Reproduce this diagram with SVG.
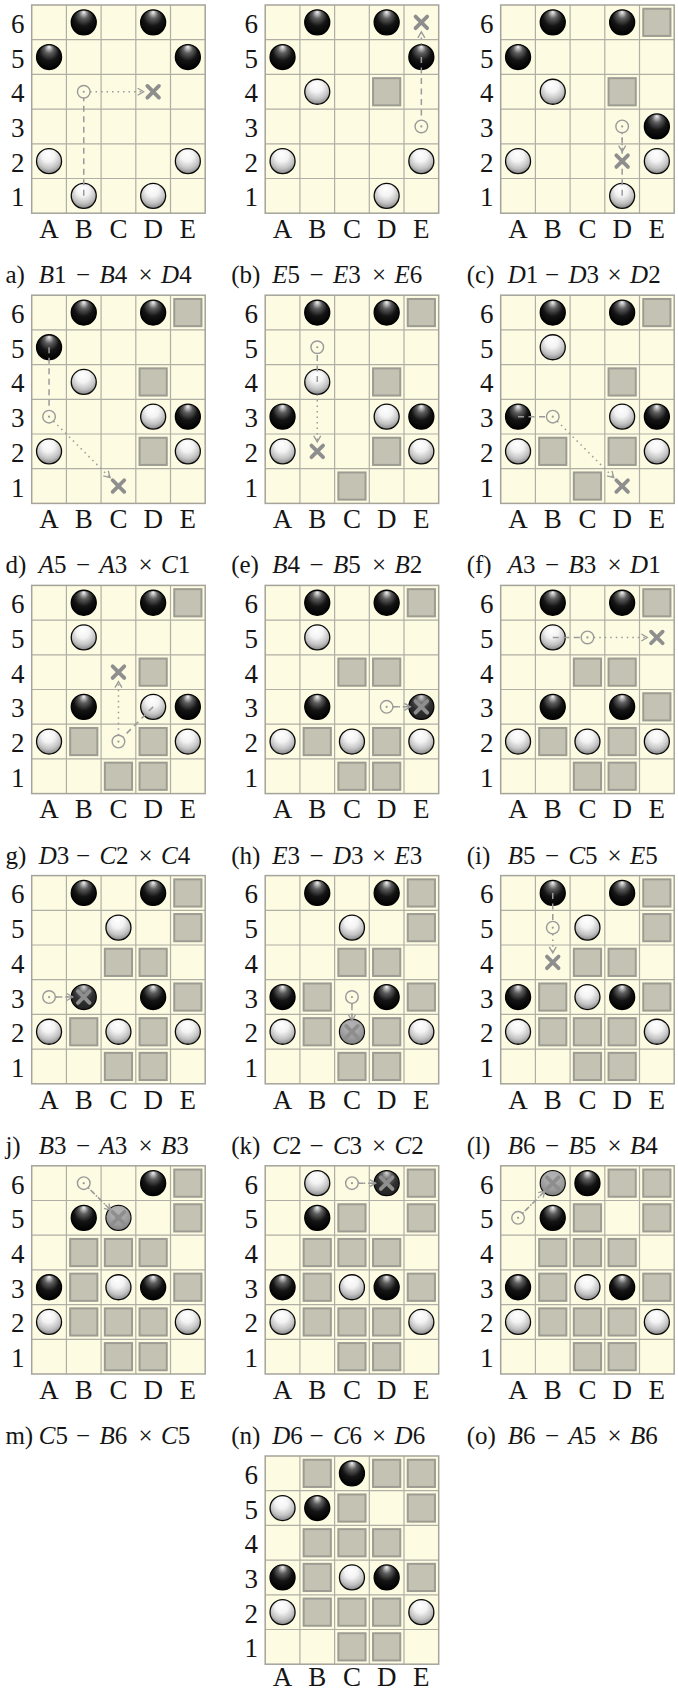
<svg xmlns="http://www.w3.org/2000/svg" width="678" height="1693" viewBox="0 0 678 1693">
<style>
.lbl{font-family:'Liberation Serif','DejaVu Serif',serif;font-size:27px;fill:#151515;text-anchor:middle}
.cap{font-family:'Liberation Serif','DejaVu Serif',serif;font-size:25px;fill:#151515}
.it{font-style:italic}
.mv{fill:none;stroke:#9a9a9a;stroke-width:1.5;stroke-dasharray:6 4.5}
.cp{fill:none;stroke:#9a9a9a;stroke-width:1.5;stroke-dasharray:1.5 4;marker-end:url(#ah)}
</style>
<defs>
<radialGradient id="gb" cx="0.5" cy="0.38" r="0.62" fx="0.5" fy="0.08"><stop offset="0" stop-color="#f4f4f4"/><stop offset="0.3" stop-color="#5e5e5e"/><stop offset="0.62" stop-color="#141414"/><stop offset="1" stop-color="#000"/></radialGradient>
<radialGradient id="gw" cx="0.5" cy="0.35" r="0.65" fx="0.45" fy="0.2"><stop offset="0" stop-color="#fff"/><stop offset="0.4" stop-color="#f3f3f3"/><stop offset="0.75" stop-color="#c2c2c2"/><stop offset="1" stop-color="#858585"/></radialGradient>
<marker id="ah" markerUnits="userSpaceOnUse" markerWidth="9" markerHeight="9" refX="6" refY="3.5" orient="auto" overflow="visible"><path d="M0 0L6 3.5L0 7" fill="none" stroke="#9a9a9a" stroke-width="1.3"/></marker>
<g id="grid"><rect width="173.5" height="208.2" fill="#fdfbe2"/><path d="M34.7 0V208.2M69.4 0V208.2M104.1 0V208.2M138.8 0V208.2M0 34.7H173.5M0 69.4H173.5M0 104.1H173.5M0 138.8H173.5M0 173.5H173.5" stroke="#b0afa5" stroke-width="1.2" fill="none"/><rect width="173.5" height="208.2" fill="none" stroke="#a5a49b" stroke-width="1.5"/></g>
<circle id="bk" r="12.5" fill="url(#gb)" stroke="#000" stroke-width="1.3"/>
<circle id="wt" r="12.5" fill="url(#gw)" stroke="#0a0a0a" stroke-width="1.3"/>
<rect id="gs" x="-13.6" y="-13.6" width="27.2" height="27.2" fill="#c3c2b3" stroke="#9d9c93" stroke-width="2"/>
<path id="xx" d="M-5.8-5.8L5.8 5.8M5.8-5.8L-5.8 5.8" stroke="#8e8e8e" stroke-width="3.8" stroke-linecap="round" fill="none"/>
<g id="cm"><circle r="6.3" fill="none" stroke="#9a9a9a" stroke-width="1.4"/><circle r="1.1" fill="#9a9a9a"/></g>
<circle id="mw" r="12" fill="#7d7d7d" fill-opacity="0.6"/>
<circle id="mb" r="12" fill="#888" fill-opacity="0.25"/>
</defs>

<g id="board-a" transform="translate(31.7,5)">
<use href="#grid"/>
<use href="#bk" x="52.05" y="17.35"/><use href="#bk" x="121.45" y="17.35"/><use href="#bk" x="17.35" y="52.05"/><use href="#bk" x="156.15" y="52.05"/>
<use href="#wt" x="17.35" y="156.15"/><use href="#wt" x="156.15" y="156.15"/><use href="#wt" x="52.05" y="190.85"/><use href="#wt" x="121.45" y="190.85"/>
<g id="board-a-moves"><path class="mv" d="M52.05 190.85V93.05"/><use href="#cm" x="52.05" y="86.75"/><path class="cp" d="M58.35 86.75H111.95"/><use href="#xx" x="121.45" y="86.75"/></g>
<text class="lbl" x="-14 -14 -14 -14 -14 -14" y="27.85 62.55 97.25 131.95 166.65 201.35">654321</text>
<text class="lbl" x="17.35 52.05 86.75 121.45 156.15" y="233">ABCDE</text>
<text class="cap" y="278.3"><tspan x="-26.3">a)</tspan><tspan x="7" class="it">B</tspan>1<tspan x="44.4">−</tspan><tspan x="67.7" class="it">B</tspan>4<tspan x="106.7">×</tspan><tspan x="129.4" class="it">D</tspan>4</text>
</g>

<g id="board-b" transform="translate(265.2,5)">
<use href="#grid"/>
<use href="#gs" x="121.45" y="86.75"/>
<use href="#bk" x="52.05" y="17.35"/><use href="#bk" x="121.45" y="17.35"/><use href="#bk" x="17.35" y="52.05"/><use href="#bk" x="156.15" y="52.05"/>
<use href="#wt" x="52.05" y="86.75"/><use href="#wt" x="17.35" y="156.15"/><use href="#wt" x="156.15" y="156.15"/><use href="#wt" x="121.45" y="190.85"/>
<g id="board-b-moves"><path class="mv" d="M156.15 52.05V115.15"/><use href="#cm" x="156.15" y="121.45"/><path class="cp" d="M156.15 39.55V26.85"/><use href="#xx" x="156.15" y="17.35"/></g>
<text class="lbl" x="-14 -14 -14 -14 -14 -14" y="27.85 62.55 97.25 131.95 166.65 201.35">654321</text>
<text class="lbl" x="17.35 52.05 86.75 121.45 156.15" y="233">ABCDE</text>
<text class="cap" y="278.3"><tspan x="-34">(b)</tspan><tspan x="7" class="it">E</tspan>5<tspan x="44.4">−</tspan><tspan x="67.7" class="it">E</tspan>3<tspan x="106.7">×</tspan><tspan x="129.4" class="it">E</tspan>6</text>
</g>

<g id="board-c" transform="translate(500.7,5)">
<use href="#grid"/>
<use href="#gs" x="156.15" y="17.35"/><use href="#gs" x="121.45" y="86.75"/>
<use href="#bk" x="52.05" y="17.35"/><use href="#bk" x="121.45" y="17.35"/><use href="#bk" x="17.35" y="52.05"/><use href="#bk" x="156.15" y="121.45"/>
<use href="#wt" x="52.05" y="86.75"/><use href="#wt" x="17.35" y="156.15"/><use href="#wt" x="156.15" y="156.15"/><use href="#wt" x="121.45" y="190.85"/>
<g id="board-c-moves"><path class="mv" d="M121.45 190.85V127.75"/><use href="#cm" x="121.45" y="121.45"/><path class="cp" d="M121.45 127.75V146.65"/><use href="#xx" x="121.45" y="156.15"/></g>
<text class="lbl" x="-14 -14 -14 -14 -14 -14" y="27.85 62.55 97.25 131.95 166.65 201.35">654321</text>
<text class="lbl" x="17.35 52.05 86.75 121.45 156.15" y="233">ABCDE</text>
<text class="cap" y="278.3"><tspan x="-34">(c)</tspan><tspan x="7" class="it">D</tspan>1<tspan x="44.4">−</tspan><tspan x="67.7" class="it">D</tspan>3<tspan x="106.7">×</tspan><tspan x="129.4" class="it">D</tspan>2</text>
</g>

<g id="board-d" transform="translate(31.7,295.2)">
<use href="#grid"/>
<use href="#gs" x="156.15" y="17.35"/><use href="#gs" x="121.45" y="86.75"/><use href="#gs" x="121.45" y="156.15"/>
<use href="#bk" x="52.05" y="17.35"/><use href="#bk" x="121.45" y="17.35"/><use href="#bk" x="17.35" y="52.05"/><use href="#bk" x="156.15" y="121.45"/>
<use href="#wt" x="52.05" y="86.75"/><use href="#wt" x="121.45" y="121.45"/><use href="#wt" x="17.35" y="156.15"/><use href="#wt" x="156.15" y="156.15"/>
<g id="board-d-moves"><path class="mv" d="M17.35 52.05V115.15"/><use href="#cm" x="17.35" y="121.45"/><path class="cp" d="M21.8 125.9L78.35 182.45"/><use href="#xx" x="86.75" y="190.85"/></g>
<text class="lbl" x="-14 -14 -14 -14 -14 -14" y="27.85 62.55 97.25 131.95 166.65 201.35">654321</text>
<text class="lbl" x="17.35 52.05 86.75 121.45 156.15" y="233">ABCDE</text>
<text class="cap" y="278.3"><tspan x="-26.3">d)</tspan><tspan x="7" class="it">A</tspan>5<tspan x="44.4">−</tspan><tspan x="67.7" class="it">A</tspan>3<tspan x="106.7">×</tspan><tspan x="129.4" class="it">C</tspan>1</text>
</g>

<g id="board-e" transform="translate(265.2,295.2)">
<use href="#grid"/>
<use href="#gs" x="156.15" y="17.35"/><use href="#gs" x="121.45" y="86.75"/><use href="#gs" x="121.45" y="156.15"/><use href="#gs" x="86.75" y="190.85"/>
<use href="#bk" x="52.05" y="17.35"/><use href="#bk" x="121.45" y="17.35"/><use href="#bk" x="17.35" y="121.45"/><use href="#bk" x="156.15" y="121.45"/>
<use href="#wt" x="52.05" y="86.75"/><use href="#wt" x="121.45" y="121.45"/><use href="#wt" x="17.35" y="156.15"/><use href="#wt" x="156.15" y="156.15"/>
<g id="board-e-moves"><path class="mv" d="M52.05 86.75V58.35"/><use href="#cm" x="52.05" y="52.05"/><path class="cp" d="M52.05 99.25V146.65"/><use href="#xx" x="52.05" y="156.15"/></g>
<text class="lbl" x="-14 -14 -14 -14 -14 -14" y="27.85 62.55 97.25 131.95 166.65 201.35">654321</text>
<text class="lbl" x="17.35 52.05 86.75 121.45 156.15" y="233">ABCDE</text>
<text class="cap" y="278.3"><tspan x="-34">(e)</tspan><tspan x="7" class="it">B</tspan>4<tspan x="44.4">−</tspan><tspan x="67.7" class="it">B</tspan>5<tspan x="106.7">×</tspan><tspan x="129.4" class="it">B</tspan>2</text>
</g>

<g id="board-f" transform="translate(500.7,295.2)">
<use href="#grid"/>
<use href="#gs" x="156.15" y="17.35"/><use href="#gs" x="121.45" y="86.75"/><use href="#gs" x="52.05" y="156.15"/><use href="#gs" x="121.45" y="156.15"/><use href="#gs" x="86.75" y="190.85"/>
<use href="#bk" x="52.05" y="17.35"/><use href="#bk" x="121.45" y="17.35"/><use href="#bk" x="17.35" y="121.45"/><use href="#bk" x="156.15" y="121.45"/>
<use href="#wt" x="52.05" y="52.05"/><use href="#wt" x="121.45" y="121.45"/><use href="#wt" x="17.35" y="156.15"/><use href="#wt" x="156.15" y="156.15"/>
<g id="board-f-moves"><path class="mv" d="M17.35 121.45H45.75"/><use href="#cm" x="52.05" y="121.45"/><path class="cp" d="M56.5 125.9L113.05 182.45"/><use href="#xx" x="121.45" y="190.85"/></g>
<text class="lbl" x="-14 -14 -14 -14 -14 -14" y="27.85 62.55 97.25 131.95 166.65 201.35">654321</text>
<text class="lbl" x="17.35 52.05 86.75 121.45 156.15" y="233">ABCDE</text>
<text class="cap" y="278.3"><tspan x="-34">(f)</tspan><tspan x="7" class="it">A</tspan>3<tspan x="44.4">−</tspan><tspan x="67.7" class="it">B</tspan>3<tspan x="106.7">×</tspan><tspan x="129.4" class="it">D</tspan>1</text>
</g>

<g id="board-g" transform="translate(31.7,585.4)">
<use href="#grid"/>
<use href="#gs" x="156.15" y="17.35"/><use href="#gs" x="121.45" y="86.75"/><use href="#gs" x="52.05" y="156.15"/><use href="#gs" x="121.45" y="156.15"/><use href="#gs" x="86.75" y="190.85"/><use href="#gs" x="121.45" y="190.85"/>
<use href="#bk" x="52.05" y="17.35"/><use href="#bk" x="121.45" y="17.35"/><use href="#bk" x="52.05" y="121.45"/><use href="#bk" x="156.15" y="121.45"/>
<use href="#wt" x="52.05" y="52.05"/><use href="#wt" x="121.45" y="121.45"/><use href="#wt" x="17.35" y="156.15"/><use href="#wt" x="156.15" y="156.15"/>
<g id="board-g-moves"><path class="mv" d="M121.45 121.45L91.2 151.7"/><use href="#cm" x="86.75" y="156.15"/><path class="cp" d="M86.75 149.85V96.25"/><use href="#xx" x="86.75" y="86.75"/></g>
<text class="lbl" x="-14 -14 -14 -14 -14 -14" y="27.85 62.55 97.25 131.95 166.65 201.35">654321</text>
<text class="lbl" x="17.35 52.05 86.75 121.45 156.15" y="233">ABCDE</text>
<text class="cap" y="278.3"><tspan x="-26.3">g)</tspan><tspan x="7" class="it">D</tspan>3<tspan x="44.4">−</tspan><tspan x="67.7" class="it">C</tspan>2<tspan x="106.7">×</tspan><tspan x="129.4" class="it">C</tspan>4</text>
</g>

<g id="board-h" transform="translate(265.2,585.4)">
<use href="#grid"/>
<use href="#gs" x="156.15" y="17.35"/><use href="#gs" x="86.75" y="86.75"/><use href="#gs" x="121.45" y="86.75"/><use href="#gs" x="52.05" y="156.15"/><use href="#gs" x="121.45" y="156.15"/><use href="#gs" x="86.75" y="190.85"/><use href="#gs" x="121.45" y="190.85"/>
<use href="#bk" x="52.05" y="17.35"/><use href="#bk" x="121.45" y="17.35"/><use href="#bk" x="52.05" y="121.45"/><use href="#bk" x="156.15" y="121.45"/>
<use href="#wt" x="52.05" y="52.05"/><use href="#wt" x="17.35" y="156.15"/><use href="#wt" x="86.75" y="156.15"/><use href="#wt" x="156.15" y="156.15"/>
<g id="board-h-moves"><use href="#mb" x="156.15" y="121.45"/><path class="mv" d="M143.65 121.45H127.75"/><use href="#cm" x="121.45" y="121.45"/><path class="cp" d="M127.75 121.45H145.15"/><use href="#xx" x="156.15" y="121.45"/></g>
<text class="lbl" x="-14 -14 -14 -14 -14 -14" y="27.85 62.55 97.25 131.95 166.65 201.35">654321</text>
<text class="lbl" x="17.35 52.05 86.75 121.45 156.15" y="233">ABCDE</text>
<text class="cap" y="278.3"><tspan x="-34">(h)</tspan><tspan x="7" class="it">E</tspan>3<tspan x="44.4">−</tspan><tspan x="67.7" class="it">D</tspan>3<tspan x="106.7">×</tspan><tspan x="129.4" class="it">E</tspan>3</text>
</g>

<g id="board-i" transform="translate(500.7,585.4)">
<use href="#grid"/>
<use href="#gs" x="156.15" y="17.35"/><use href="#gs" x="86.75" y="86.75"/><use href="#gs" x="121.45" y="86.75"/><use href="#gs" x="156.15" y="121.45"/><use href="#gs" x="52.05" y="156.15"/><use href="#gs" x="121.45" y="156.15"/><use href="#gs" x="86.75" y="190.85"/><use href="#gs" x="121.45" y="190.85"/>
<use href="#bk" x="52.05" y="17.35"/><use href="#bk" x="121.45" y="17.35"/><use href="#bk" x="52.05" y="121.45"/><use href="#bk" x="121.45" y="121.45"/>
<use href="#wt" x="52.05" y="52.05"/><use href="#wt" x="17.35" y="156.15"/><use href="#wt" x="86.75" y="156.15"/><use href="#wt" x="156.15" y="156.15"/>
<g id="board-i-moves"><path class="mv" d="M52.05 52.05H80.45"/><use href="#cm" x="86.75" y="52.05"/><path class="cp" d="M93.05 52.05H146.65"/><use href="#xx" x="156.15" y="52.05"/></g>
<text class="lbl" x="-14 -14 -14 -14 -14 -14" y="27.85 62.55 97.25 131.95 166.65 201.35">654321</text>
<text class="lbl" x="17.35 52.05 86.75 121.45 156.15" y="233">ABCDE</text>
<text class="cap" y="278.3"><tspan x="-34">(i)</tspan><tspan x="7" class="it">B</tspan>5<tspan x="44.4">−</tspan><tspan x="67.7" class="it">C</tspan>5<tspan x="106.7">×</tspan><tspan x="129.4" class="it">E</tspan>5</text>
</g>

<g id="board-j" transform="translate(31.7,875.6)">
<use href="#grid"/>
<use href="#gs" x="156.15" y="17.35"/><use href="#gs" x="156.15" y="52.05"/><use href="#gs" x="86.75" y="86.75"/><use href="#gs" x="121.45" y="86.75"/><use href="#gs" x="156.15" y="121.45"/><use href="#gs" x="52.05" y="156.15"/><use href="#gs" x="121.45" y="156.15"/><use href="#gs" x="86.75" y="190.85"/><use href="#gs" x="121.45" y="190.85"/>
<use href="#bk" x="52.05" y="17.35"/><use href="#bk" x="121.45" y="17.35"/><use href="#bk" x="52.05" y="121.45"/><use href="#bk" x="121.45" y="121.45"/>
<use href="#wt" x="86.75" y="52.05"/><use href="#wt" x="17.35" y="156.15"/><use href="#wt" x="86.75" y="156.15"/><use href="#wt" x="156.15" y="156.15"/>
<g id="board-j-moves"><use href="#mb" x="52.05" y="121.45"/><path class="mv" d="M39.55 121.45H23.65"/><use href="#cm" x="17.35" y="121.45"/><path class="cp" d="M23.65 121.45H41.05"/><use href="#xx" x="52.05" y="121.45"/></g>
<text class="lbl" x="-14 -14 -14 -14 -14 -14" y="27.85 62.55 97.25 131.95 166.65 201.35">654321</text>
<text class="lbl" x="17.35 52.05 86.75 121.45 156.15" y="233">ABCDE</text>
<text class="cap" y="278.3"><tspan x="-26.3">j)</tspan><tspan x="7" class="it">B</tspan>3<tspan x="44.4">−</tspan><tspan x="67.7" class="it">A</tspan>3<tspan x="106.7">×</tspan><tspan x="129.4" class="it">B</tspan>3</text>
</g>

<g id="board-k" transform="translate(265.2,875.6)">
<use href="#grid"/>
<use href="#gs" x="156.15" y="17.35"/><use href="#gs" x="156.15" y="52.05"/><use href="#gs" x="86.75" y="86.75"/><use href="#gs" x="121.45" y="86.75"/><use href="#gs" x="52.05" y="121.45"/><use href="#gs" x="156.15" y="121.45"/><use href="#gs" x="52.05" y="156.15"/><use href="#gs" x="121.45" y="156.15"/><use href="#gs" x="86.75" y="190.85"/><use href="#gs" x="121.45" y="190.85"/>
<use href="#bk" x="52.05" y="17.35"/><use href="#bk" x="121.45" y="17.35"/><use href="#bk" x="17.35" y="121.45"/><use href="#bk" x="121.45" y="121.45"/>
<use href="#wt" x="86.75" y="52.05"/><use href="#wt" x="17.35" y="156.15"/><use href="#wt" x="86.75" y="156.15"/><use href="#wt" x="156.15" y="156.15"/>
<g id="board-k-moves"><use href="#mw" x="86.75" y="156.15"/><path class="mv" d="M86.75 143.65V127.75"/><use href="#cm" x="86.75" y="121.45"/><path class="cp" d="M86.75 127.75V145.15"/><use href="#xx" x="86.75" y="156.15"/></g>
<text class="lbl" x="-14 -14 -14 -14 -14 -14" y="27.85 62.55 97.25 131.95 166.65 201.35">654321</text>
<text class="lbl" x="17.35 52.05 86.75 121.45 156.15" y="233">ABCDE</text>
<text class="cap" y="278.3"><tspan x="-34">(k)</tspan><tspan x="7" class="it">C</tspan>2<tspan x="44.4">−</tspan><tspan x="67.7" class="it">C</tspan>3<tspan x="106.7">×</tspan><tspan x="129.4" class="it">C</tspan>2</text>
</g>

<g id="board-l" transform="translate(500.7,875.6)">
<use href="#grid"/>
<use href="#gs" x="156.15" y="17.35"/><use href="#gs" x="156.15" y="52.05"/><use href="#gs" x="86.75" y="86.75"/><use href="#gs" x="121.45" y="86.75"/><use href="#gs" x="52.05" y="121.45"/><use href="#gs" x="156.15" y="121.45"/><use href="#gs" x="52.05" y="156.15"/><use href="#gs" x="86.75" y="156.15"/><use href="#gs" x="121.45" y="156.15"/><use href="#gs" x="86.75" y="190.85"/><use href="#gs" x="121.45" y="190.85"/>
<use href="#bk" x="52.05" y="17.35"/><use href="#bk" x="121.45" y="17.35"/><use href="#bk" x="17.35" y="121.45"/><use href="#bk" x="121.45" y="121.45"/>
<use href="#wt" x="86.75" y="52.05"/><use href="#wt" x="86.75" y="121.45"/><use href="#wt" x="17.35" y="156.15"/><use href="#wt" x="156.15" y="156.15"/>
<g id="board-l-moves"><path class="mv" d="M52.05 17.35V45.75"/><use href="#cm" x="52.05" y="52.05"/><path class="cp" d="M52.05 58.35V77.25"/><use href="#xx" x="52.05" y="86.75"/></g>
<text class="lbl" x="-14 -14 -14 -14 -14 -14" y="27.85 62.55 97.25 131.95 166.65 201.35">654321</text>
<text class="lbl" x="17.35 52.05 86.75 121.45 156.15" y="233">ABCDE</text>
<text class="cap" y="278.3"><tspan x="-34">(l)</tspan><tspan x="7" class="it">B</tspan>6<tspan x="44.4">−</tspan><tspan x="67.7" class="it">B</tspan>5<tspan x="106.7">×</tspan><tspan x="129.4" class="it">B</tspan>4</text>
</g>

<g id="board-m" transform="translate(31.7,1165.8)">
<use href="#grid"/>
<use href="#gs" x="156.15" y="17.35"/><use href="#gs" x="156.15" y="52.05"/><use href="#gs" x="52.05" y="86.75"/><use href="#gs" x="86.75" y="86.75"/><use href="#gs" x="121.45" y="86.75"/><use href="#gs" x="52.05" y="121.45"/><use href="#gs" x="156.15" y="121.45"/><use href="#gs" x="52.05" y="156.15"/><use href="#gs" x="86.75" y="156.15"/><use href="#gs" x="121.45" y="156.15"/><use href="#gs" x="86.75" y="190.85"/><use href="#gs" x="121.45" y="190.85"/>
<use href="#bk" x="121.45" y="17.35"/><use href="#bk" x="52.05" y="52.05"/><use href="#bk" x="17.35" y="121.45"/><use href="#bk" x="121.45" y="121.45"/>
<use href="#wt" x="86.75" y="52.05"/><use href="#wt" x="86.75" y="121.45"/><use href="#wt" x="17.35" y="156.15"/><use href="#wt" x="156.15" y="156.15"/>
<g id="board-m-moves"><use href="#mw" x="86.75" y="52.05"/><path class="mv" d="M77.9 43.2L56.5 21.8"/><use href="#cm" x="52.05" y="17.35"/><path class="cp" d="M56.5 21.8L78.95 44.25"/><use href="#xx" x="86.75" y="52.05"/></g>
<text class="lbl" x="-14 -14 -14 -14 -14 -14" y="27.85 62.55 97.25 131.95 166.65 201.35">654321</text>
<text class="lbl" x="17.35 52.05 86.75 121.45 156.15" y="233">ABCDE</text>
<text class="cap" y="278.3"><tspan x="-26.3">m)</tspan><tspan x="7" class="it">C</tspan>5<tspan x="44.4">−</tspan><tspan x="67.7" class="it">B</tspan>6<tspan x="106.7">×</tspan><tspan x="129.4" class="it">C</tspan>5</text>
</g>

<g id="board-n" transform="translate(265.2,1165.8)">
<use href="#grid"/>
<use href="#gs" x="156.15" y="17.35"/><use href="#gs" x="86.75" y="52.05"/><use href="#gs" x="156.15" y="52.05"/><use href="#gs" x="52.05" y="86.75"/><use href="#gs" x="86.75" y="86.75"/><use href="#gs" x="121.45" y="86.75"/><use href="#gs" x="52.05" y="121.45"/><use href="#gs" x="156.15" y="121.45"/><use href="#gs" x="52.05" y="156.15"/><use href="#gs" x="86.75" y="156.15"/><use href="#gs" x="121.45" y="156.15"/><use href="#gs" x="86.75" y="190.85"/><use href="#gs" x="121.45" y="190.85"/>
<use href="#bk" x="121.45" y="17.35"/><use href="#bk" x="52.05" y="52.05"/><use href="#bk" x="17.35" y="121.45"/><use href="#bk" x="121.45" y="121.45"/>
<use href="#wt" x="52.05" y="17.35"/><use href="#wt" x="86.75" y="121.45"/><use href="#wt" x="17.35" y="156.15"/><use href="#wt" x="156.15" y="156.15"/>
<g id="board-n-moves"><use href="#mb" x="121.45" y="17.35"/><path class="mv" d="M108.95 17.35H93.05"/><use href="#cm" x="86.75" y="17.35"/><path class="cp" d="M93.05 17.35H110.45"/><use href="#xx" x="121.45" y="17.35"/></g>
<text class="lbl" x="-14 -14 -14 -14 -14 -14" y="27.85 62.55 97.25 131.95 166.65 201.35">654321</text>
<text class="lbl" x="17.35 52.05 86.75 121.45 156.15" y="233">ABCDE</text>
<text class="cap" y="278.3"><tspan x="-34">(n)</tspan><tspan x="7" class="it">D</tspan>6<tspan x="44.4">−</tspan><tspan x="67.7" class="it">C</tspan>6<tspan x="106.7">×</tspan><tspan x="129.4" class="it">D</tspan>6</text>
</g>

<g id="board-o" transform="translate(500.7,1165.8)">
<use href="#grid"/>
<use href="#gs" x="121.45" y="17.35"/><use href="#gs" x="156.15" y="17.35"/><use href="#gs" x="86.75" y="52.05"/><use href="#gs" x="156.15" y="52.05"/><use href="#gs" x="52.05" y="86.75"/><use href="#gs" x="86.75" y="86.75"/><use href="#gs" x="121.45" y="86.75"/><use href="#gs" x="52.05" y="121.45"/><use href="#gs" x="156.15" y="121.45"/><use href="#gs" x="52.05" y="156.15"/><use href="#gs" x="86.75" y="156.15"/><use href="#gs" x="121.45" y="156.15"/><use href="#gs" x="86.75" y="190.85"/><use href="#gs" x="121.45" y="190.85"/>
<use href="#bk" x="86.75" y="17.35"/><use href="#bk" x="52.05" y="52.05"/><use href="#bk" x="17.35" y="121.45"/><use href="#bk" x="121.45" y="121.45"/>
<use href="#wt" x="52.05" y="17.35"/><use href="#wt" x="86.75" y="121.45"/><use href="#wt" x="17.35" y="156.15"/><use href="#wt" x="156.15" y="156.15"/>
<g id="board-o-moves"><use href="#mw" x="52.05" y="17.35"/><path class="mv" d="M43.2 26.2L21.8 47.6"/><use href="#cm" x="17.35" y="52.05"/><path class="cp" d="M21.8 47.6L44.25 25.15"/><use href="#xx" x="52.05" y="17.35"/></g>
<text class="lbl" x="-14 -14 -14 -14 -14 -14" y="27.85 62.55 97.25 131.95 166.65 201.35">654321</text>
<text class="lbl" x="17.35 52.05 86.75 121.45 156.15" y="233">ABCDE</text>
<text class="cap" y="278.3"><tspan x="-34">(o)</tspan><tspan x="7" class="it">B</tspan>6<tspan x="44.4">−</tspan><tspan x="67.7" class="it">A</tspan>5<tspan x="106.7">×</tspan><tspan x="129.4" class="it">B</tspan>6</text>
</g>

<g id="board-final" transform="translate(265.2,1456)">
<use href="#grid"/>
<use href="#gs" x="52.05" y="17.35"/><use href="#gs" x="121.45" y="17.35"/><use href="#gs" x="156.15" y="17.35"/><use href="#gs" x="86.75" y="52.05"/><use href="#gs" x="156.15" y="52.05"/><use href="#gs" x="52.05" y="86.75"/><use href="#gs" x="86.75" y="86.75"/><use href="#gs" x="121.45" y="86.75"/><use href="#gs" x="52.05" y="121.45"/><use href="#gs" x="156.15" y="121.45"/><use href="#gs" x="52.05" y="156.15"/><use href="#gs" x="86.75" y="156.15"/><use href="#gs" x="121.45" y="156.15"/><use href="#gs" x="86.75" y="190.85"/><use href="#gs" x="121.45" y="190.85"/>
<use href="#bk" x="86.75" y="17.35"/><use href="#bk" x="52.05" y="52.05"/><use href="#bk" x="17.35" y="121.45"/><use href="#bk" x="121.45" y="121.45"/>
<use href="#wt" x="17.35" y="52.05"/><use href="#wt" x="86.75" y="121.45"/><use href="#wt" x="17.35" y="156.15"/><use href="#wt" x="156.15" y="156.15"/>
<text class="lbl" x="-14 -14 -14 -14 -14 -14" y="27.85 62.55 97.25 131.95 166.65 201.35">654321</text>
<text class="lbl" x="17.35 52.05 86.75 121.45 156.15" y="230">ABCDE</text>
</g>
</svg>
